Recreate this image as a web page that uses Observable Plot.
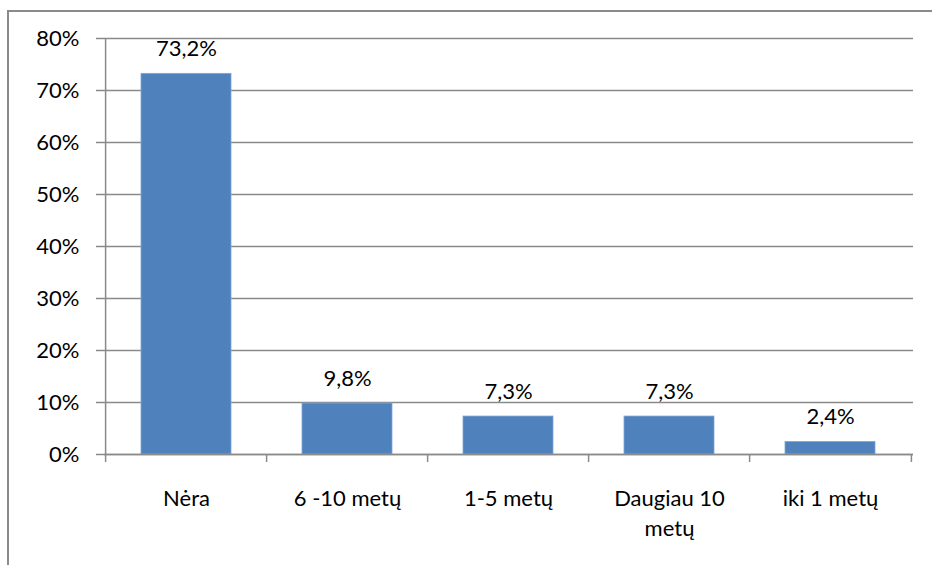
<!DOCTYPE html>
<html><head><meta charset="utf-8">
<script src="https://cdn.jsdelivr.net/npm/d3@7"></script>
<script src="https://cdn.jsdelivr.net/npm/@observablehq/plot@0.6"></script>
<style>
html,body{margin:0;padding:0;background:#fff;}
#wrap{position:relative;width:932px;height:565px;overflow:hidden;}
#border{position:absolute;left:7px;top:10px;width:1000px;height:600px;border-top:2px solid #8a8a8a;border-left:2px solid #8a8a8a;}
#chart{position:absolute;left:0;top:0;}
</style></head>
<body><div id="wrap"><div id="border"></div><div id="chart"></div></div>
<script>
const categories = ["Nėra", "6 -10 metų", "1-5 metų", "Daugiau 10 metų", "iki 1 metų"];
const tickLabels = ["Nėra", "6 -10 metų", "1-5 metų", "Daugiau 10\nmetų", "iki 1 metų"];
const values = [73.2, 9.8, 7.3, 7.3, 2.4];
const valueLabels = ["73,2%", "9,8%", "7,3%", "7,3%", "2,4%"];
const yTicks = [0, 10, 20, 30, 40, 50, 60, 70, 80];

const data = categories.map((c, i) => ({cat: c, v: values[i], label: valueLabels[i]}));
const W = 932, H = 565, ml = 104, mr = 19, mt = 38, mb = 111;
const bw = (W - ml - mr) / categories.length;
const grey = "#8a8a8a";
const font = "Lato, 'Open Sans', sans-serif";

const chart = Plot.plot({
  width: W, height: H,
  marginLeft: ml, marginRight: mr, marginTop: mt, marginBottom: mb,
  style: {fontFamily: font, fontSize: "22px", color: "#000", background: "transparent"},
  x: {domain: categories, padding: 0.44, paddingOuter: 0.22},
  y: {domain: [0, 80]},
  marks: [
    Plot.gridY(yTicks, {stroke: grey, strokeOpacity: 1, strokeWidth: 1.5}),
    Plot.axisY({ticks: yTicks, tickSize: 8, tickPadding: 17, stroke: grey, strokeWidth: 1.5, tickFormat: d => d + "%", label: null, fill: "#000"}),
    Plot.barY(data, {x: "cat", y: "v", fill: "#4F81BD", stroke: "#7fa6d6", strokeWidth: 0.8}),
    Plot.text(data, {x: "cat", y: "v", text: "label", dy: -25, lineAnchor: "middle", fill: "#000", fontSize: 22}),
    Plot.ruleX([categories[0]], {x: d => d, dx: -bw/2, y1: 0, y2: 80, stroke: grey, strokeWidth: 1.5}),
    Plot.ruleY([0], {stroke: grey, strokeWidth: 1.5}),
    Plot.ruleX(categories, {x: d => d, dx: -bw/2, y1: 0, y2: 0, insetBottom: -8, stroke: grey, strokeWidth: 1.5}),
    Plot.ruleX([categories[categories.length-1]], {x: d => d, dx: bw/2, y1: 0, y2: 0, insetBottom: -8, stroke: grey, strokeWidth: 1.5}),
    Plot.axisX({tickSize: 0, tickPadding: 30, tickFormat: d => tickLabels[categories.indexOf(d)], label: null, lineHeight: 1.36, fill: "#000"})
  ]
});
document.getElementById("chart").appendChild(chart);
</script></body></html>
